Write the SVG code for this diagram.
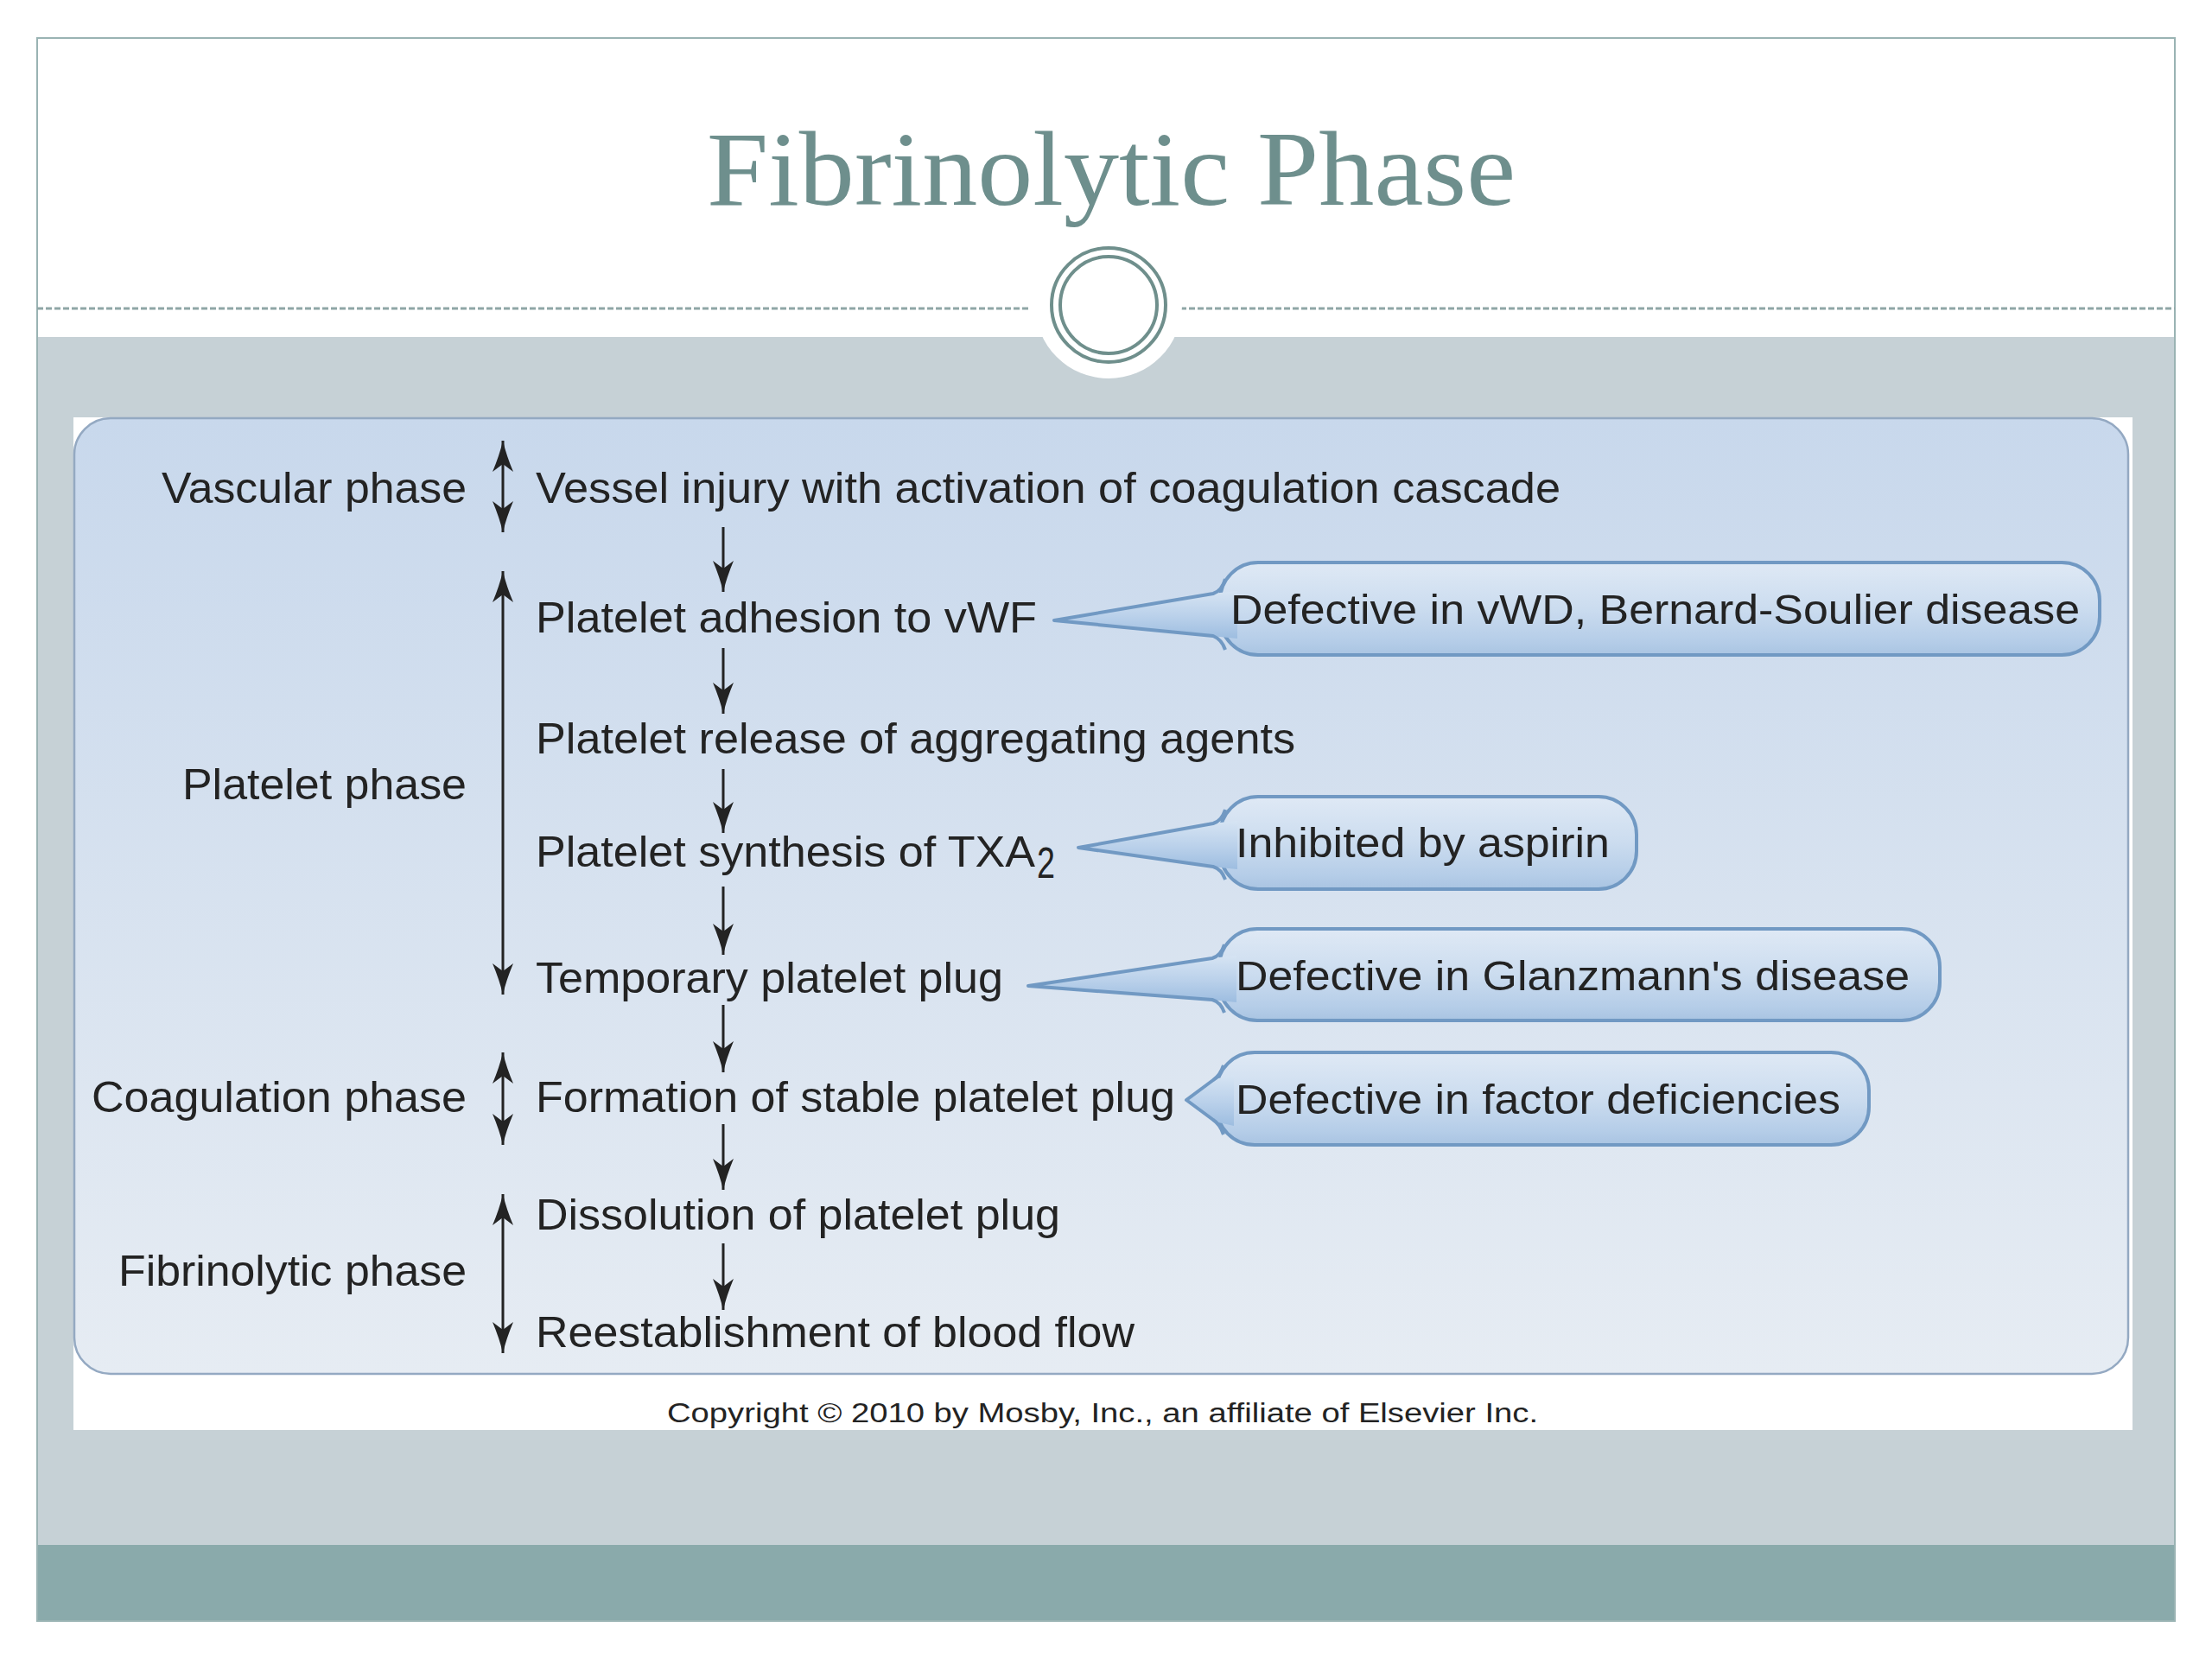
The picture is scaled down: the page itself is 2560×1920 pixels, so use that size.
<svg xmlns="http://www.w3.org/2000/svg" width="2560" height="1920" viewBox="0 0 2560 1920">
  <style>
    .t { font-family: "Liberation Sans", Arial, sans-serif; font-size: 50px; fill: #232323; }
    .ph { font-family: "Liberation Sans", Arial, sans-serif; font-size: 50px; fill: #232323; text-anchor: end; }
    .ct { font-family: "Liberation Sans", Arial, sans-serif; font-size: 49px; fill: #232323; }
    .pill { fill: url(#pillGrad); stroke: #7199c3; stroke-width: 4; }
    .wedge { fill: url(#wedgeGrad); stroke: none; }
    .wedgeEdge { fill: none; stroke: #7199c3; stroke-width: 4; stroke-linejoin: round; }
    .arr { stroke: #232323; stroke-width: 3; fill: none; }
    .ring { fill: none; stroke: #6f8f8c; stroke-width: 4; }
    .dash { stroke: #8fa6a6; stroke-width: 3; stroke-dasharray: 7 3; }
  </style>
  <defs>
    <linearGradient id="panelGrad" x1="0" y1="0" x2="0" y2="1">
      <stop offset="0" stop-color="#c8d8ec"/>
      <stop offset="1" stop-color="#e6ecf3"/>
    </linearGradient>
    <linearGradient id="pillGrad" x1="0" y1="0" x2="0" y2="1">
      <stop offset="0" stop-color="#dfe9f5"/>
      <stop offset="0.5" stop-color="#cbdcef"/>
      <stop offset="0.85" stop-color="#b5cde8"/>
      <stop offset="1" stop-color="#a9c4e2"/>
    </linearGradient>
    <linearGradient id="wedgeGrad" x1="0" y1="0" x2="0" y2="1">
      <stop offset="0" stop-color="#d6e4f3"/>
      <stop offset="0.55" stop-color="#b9d0ea"/>
      <stop offset="1" stop-color="#9dbde0"/>
    </linearGradient>
    <marker id="ah" viewBox="0 0 36 24" refX="36" refY="12" markerWidth="36" markerHeight="24" markerUnits="userSpaceOnUse" orient="auto-start-reverse">
      <path d="M0,0 Q19,8 36,12 Q19,16 0,24 L9,12 z" fill="#232323"/>
    </marker>
  </defs>

  <!-- slide background -->
  <rect x="0" y="0" width="2560" height="1920" fill="#ffffff"/>
  <rect x="43" y="390" width="2474" height="1398" fill="#c6d1d6"/>
  <rect x="43" y="1788" width="2474" height="88" fill="#8aaaab"/>
  <rect x="43" y="44" width="2474" height="1832" fill="none" stroke="#9ab3b3" stroke-width="2"/>

  <!-- title -->
  <g id="title">
    <text x="818" y="237" textLength="936" lengthAdjust="spacingAndGlyphs" font-family="'Liberation Serif', 'Times New Roman', serif" font-size="122" fill="#6e8f8d">Fibrinolytic Phase</text>
  </g>

  <!-- divider with ring -->
  <g id="divider">
    <line class="dash" x1="43" y1="357" x2="1193" y2="357"/>
    <line class="dash" x1="1366" y1="357" x2="2517" y2="357"/>
    <circle cx="1283" cy="353" r="85" fill="#ffffff"/>
    <circle class="ring" cx="1283" cy="353" r="66"/>
    <circle class="ring" cx="1283" cy="353" r="56"/>
  </g>

  <!-- figure background -->
  <rect x="85" y="483" width="2383" height="1172" fill="#ffffff"/>
  <rect x="86" y="484" width="2377" height="1106" rx="42" ry="42" fill="url(#panelGrad)" stroke="#94a9c2" stroke-width="2.5"/>

  <!-- phase labels -->
  <g id="phase-vascular"><text class="ph" x="540" y="582" textLength="353" lengthAdjust="spacingAndGlyphs">Vascular phase</text></g>
  <g id="phase-platelet"><text class="ph" x="540" y="925" textLength="329" lengthAdjust="spacingAndGlyphs">Platelet phase</text></g>
  <g id="phase-coagulation"><text class="ph" x="540" y="1287" textLength="434" lengthAdjust="spacingAndGlyphs">Coagulation phase</text></g>
  <g id="phase-fibrinolytic"><text class="ph" x="540" y="1488" textLength="403" lengthAdjust="spacingAndGlyphs">Fibrinolytic phase</text></g>

  <!-- steps -->
  <g id="step-vessel"><text class="t" x="620" y="582" textLength="1186" lengthAdjust="spacingAndGlyphs">Vessel injury with activation of coagulation cascade</text></g>
  <g id="step-adhesion"><text class="t" x="620" y="732" textLength="580" lengthAdjust="spacingAndGlyphs">Platelet adhesion to vWF</text></g>
  <g id="step-release"><text class="t" x="620" y="872" textLength="879" lengthAdjust="spacingAndGlyphs">Platelet release of aggregating agents</text></g>
  <g id="step-txa2">
    <text class="t" x="620" y="1003" textLength="578" lengthAdjust="spacingAndGlyphs">Platelet synthesis of TXA</text>
    <text class="t" x="1200" y="1016" font-size="34" textLength="21" lengthAdjust="spacingAndGlyphs">2</text>
  </g>
  <g id="step-temporary"><text class="t" x="620" y="1149" textLength="541" lengthAdjust="spacingAndGlyphs">Temporary platelet plug</text></g>
  <g id="step-stable"><text class="t" x="620" y="1287" textLength="740" lengthAdjust="spacingAndGlyphs">Formation of stable platelet plug</text></g>
  <g id="step-dissolution"><text class="t" x="620" y="1423" textLength="607" lengthAdjust="spacingAndGlyphs">Dissolution of platelet plug</text></g>
  <g id="step-reestablish"><text class="t" x="620" y="1559" textLength="693" lengthAdjust="spacingAndGlyphs">Reestablishment of blood flow</text></g>

  <!-- callouts -->
  <g id="callout-vwd">
    <rect class="pill" x="1412" y="651" width="1018" height="107" rx="44" ry="44"/>
    <path class="wedge" d="M1432,684 L1412,686 L1220,718 L1412,737 L1432,739 Z"/>
    <path class="wedgeEdge" d="M1418,670 Q1414,684 1404,687 L1220,718 L1404,736 Q1414,740 1418,752"/>
    <text class="ct" x="1424" y="722" textLength="983" lengthAdjust="spacingAndGlyphs">Defective in vWD, Bernard-Soulier disease</text>
  </g>
  <g id="callout-aspirin">
    <rect class="pill" x="1412" y="922" width="482" height="107" rx="44" ry="44"/>
    <path class="wedge" d="M1432,950 L1412,952 L1248,981 L1412,1004 L1432,1006 Z"/>
    <path class="wedgeEdge" d="M1418,937 Q1414,950 1404,953 L1248,981 L1404,1003 Q1414,1006 1418,1018"/>
    <text class="ct" x="1430" y="992" textLength="433" lengthAdjust="spacingAndGlyphs">Inhibited by aspirin</text>
  </g>
  <g id="callout-glanzmann">
    <rect class="pill" x="1411" y="1075" width="834" height="106" rx="44" ry="44"/>
    <path class="wedge" d="M1431,1106 L1411,1108 L1190,1141 L1411,1158 L1431,1160 Z"/>
    <path class="wedgeEdge" d="M1417,1093 Q1413,1106 1403,1109 L1190,1141 L1403,1157 Q1413,1160 1417,1172"/>
    <text class="ct" x="1430" y="1146" textLength="780" lengthAdjust="spacingAndGlyphs">Defective in Glanzmann's disease</text>
  </g>
  <g id="callout-factor">
    <rect class="pill" x="1408" y="1218" width="755" height="107" rx="44" ry="44"/>
    <path class="wedge" d="M1428,1244 L1410,1248 L1373,1273 L1410,1299 L1428,1303 Z"/>
    <path class="wedgeEdge" d="M1416,1233 Q1412,1245 1404,1250 L1373,1273 L1404,1296 Q1412,1301 1416,1313"/>
    <text class="ct" x="1430" y="1289" textLength="700" lengthAdjust="spacingAndGlyphs">Defective in factor deficiencies</text>
  </g>

  <!-- connectors -->
  <g id="connectors">
    <line class="arr" x1="582" y1="510" x2="582" y2="616" marker-start="url(#ah)" marker-end="url(#ah)"/>
    <line class="arr" x1="582" y1="661" x2="582" y2="1151" marker-start="url(#ah)" marker-end="url(#ah)"/>
    <line class="arr" x1="582" y1="1218" x2="582" y2="1325" marker-start="url(#ah)" marker-end="url(#ah)"/>
    <line class="arr" x1="582" y1="1382" x2="582" y2="1566" marker-start="url(#ah)" marker-end="url(#ah)"/>
    <line class="arr" x1="837" y1="610" x2="837" y2="685" marker-end="url(#ah)"/>
    <line class="arr" x1="837" y1="750" x2="837" y2="826" marker-end="url(#ah)"/>
    <line class="arr" x1="837" y1="890" x2="837" y2="964" marker-end="url(#ah)"/>
    <line class="arr" x1="837" y1="1026" x2="837" y2="1105" marker-end="url(#ah)"/>
    <line class="arr" x1="837" y1="1163" x2="837" y2="1241" marker-end="url(#ah)"/>
    <line class="arr" x1="837" y1="1301" x2="837" y2="1377" marker-end="url(#ah)"/>
    <line class="arr" x1="837" y1="1439" x2="837" y2="1516" marker-end="url(#ah)"/>
  </g>

  <!-- copyright -->
  <text x="772" y="1646" textLength="1008" lengthAdjust="spacingAndGlyphs" font-family="'Liberation Sans', Arial, sans-serif" font-size="31" fill="#232323">Copyright © 2010 by Mosby, Inc., an affiliate of Elsevier Inc.</text>
</svg>
